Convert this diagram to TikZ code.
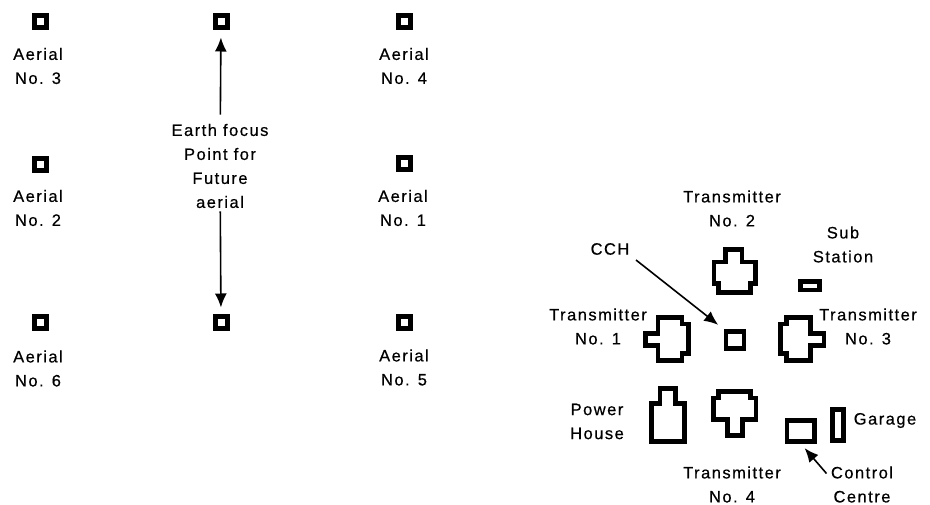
\documentclass[tikz,border=0pt]{standalone}
\usepackage{fontspec}
\setmainfont[LetterSpace=9,FakeBold=0.5]{Liberation Sans}
\usetikzlibrary{arrows.meta}

\begin{document}
\begin{tikzpicture}[
  x=1pt, y=-1pt,
  font=\fontsize{16.5}{24}\selectfont,
  label/.style={align=center, inner sep=0pt},
  aerial/.style={draw, line width=5pt, inner sep=0pt, minimum size=12pt},
  hut/.style={draw, line width=4.7pt, inner sep=0pt},
  bldg/.style={line width=4.7pt},
  arrow/.style={-{Latex[length=14pt,width=12pt]}, line width=1.6pt}
]
\useasboundingbox (0,0) rectangle (930,505);

% aerial field
\node[aerial] (a3) at (40,22) {};
\node[aerial] (top) at (221,22) {};
\node[aerial] (a4) at (404,22) {};
\node[aerial] (a2) at (40,165) {};
\node[aerial] (a1) at (404,164) {};
\node[aerial] (a6) at (40,323) {};
\node[aerial] (bottom) at (221,323) {};
\node[aerial] (a5) at (404,323) {};

\node[label] (la3) at (38,66) {Aerial\\No. 3};
\node[label] (la4) at (404,66) {Aerial\\No. 4};
\node[label] (la2) at (38,208) {Aerial\\No. 2};
\node[label] (la1) at (403,208) {Aerial\\No. 1};
\node[label] (la6) at (38,368.5) {Aerial\\No. 6};
\node[label] (la5) at (404,367.5) {Aerial\\No. 5};
\node[label] (focus) at (220,166) {Earth focus\\Point for\\Future\\aerial};

\draw[arrow, shorten <=9pt, shorten >=7pt] (focus) -- (top);
\draw[arrow, shorten <=3pt, shorten >=7pt] (focus) -- (bottom);

% station buildings
\begin{scope}[shift={(530,170)}, x=0.3333pt, y=-0.3333pt]
  \draw[bldg] (586,238) -- (636,238) -- (636,276) -- (676,276) -- (676,340) -- (662,340) -- (662,368) -- (566,368) -- (566,340) -- (552,340) -- (552,276) -- (586,276) -- cycle;
  \draw[bldg] (384,442) -- (456,442) -- (456,462) -- (476,462) -- (476,550) -- (456,550) -- (456,572) -- (384,572) -- (384,526) -- (346,526) -- (346,490) -- (384,490) -- cycle;
  \draw[bldg] (770,442) -- (842,442) -- (842,490) -- (882,490) -- (882,526) -- (842,526) -- (842,572) -- (770,572) -- (770,550) -- (752,550) -- (752,462) -- (770,462) -- cycle;
  \draw[bldg] (566,664) -- (662,664) -- (662,684) -- (678,684) -- (678,748) -- (638,748) -- (638,796) -- (592,796) -- (592,748) -- (550,748) -- (550,684) -- (566,684) -- cycle;
  \draw[bldg] (390,656) -- (436,656) -- (436,700) -- (464,700) -- (464,814) -- (364,814) -- (364,700) -- (390,700) -- cycle;
\end{scope}

\node[hut, minimum width=18pt, minimum height=17pt] (cchbox) at (735,340) {};
\node[hut, minimum width=18.5pt, minimum height=8.5pt] (sub) at (810,285.7) {};
\node[hut, minimum width=27.5pt, minimum height=20.5pt] (ctrlbox) at (800.7,431) {};
\node[hut, minimum width=10.5pt, minimum height=30.5pt] (garagebox) at (838,425) {};

\node[label] (t2) at (732,208.5) {Transmitter\\No. 2};
\node[label] (t1) at (598,326.5) {Transmitter\\No. 1};
\node[label] (t3) at (868,326.5) {Transmitter\\No. 3};
\node[label] (t4) at (732,484.5) {Transmitter\\No. 4};
\node[label] (substation) at (843,244.5) {Sub\\Station};
\node[label] (power) at (597,421.5) {Power\\House};
\node[label] (garage) at (885,420.5) {Garage};
\node[label] (control) at (862,484.5) {Control\\Centre};
\node[label] (cch) at (610,249) {CCH};

\coordinate (cchtail) at (636,260);
\coordinate (ctrltail) at (826.5,473.5);
\draw[arrow, shorten >=7pt] (cchtail) -- (cchbox.north west);
\draw[arrow, shorten >=6pt] (ctrltail) -- (ctrlbox.south);

\end{tikzpicture}
\end{document}
